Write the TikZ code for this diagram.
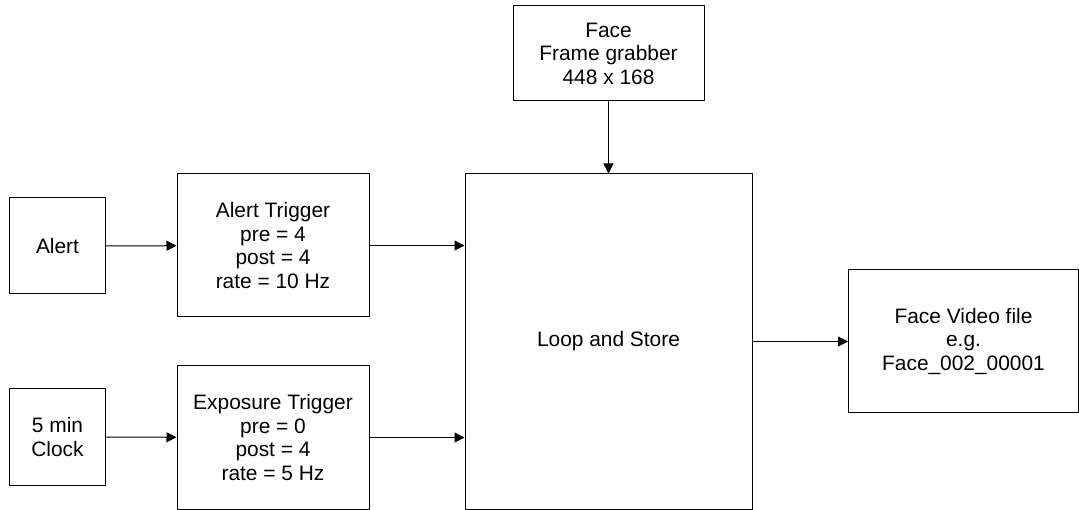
\documentclass[tikz,border=0pt]{standalone}
\usepackage{fontspec}
\setmainfont{Liberation Sans}
\usepackage{tikz}
\usetikzlibrary{arrows.meta}

\begin{document}
\begin{tikzpicture}[x=1pt, y=-1pt,
  font=\fontsize{20.9}{23.5}\selectfont,
  blk/.style={draw, line width=1pt, inner sep=0pt, align=center},
  >={Triangle[length=10pt, width=10pt]}]
 \useasboundingbox (0,0) rectangle (1079,510);
 % sources
 \node (alert) [blk, minimum width=96pt, minimum height=96pt] at (57.5,246) {Alert};
 \node (clock) [blk, minimum width=96pt, minimum height=96pt] at (57.5,437) {5 min\\Clock};
 % triggers
 \node (atrig) [blk, minimum width=192pt, minimum height=143pt] at (273,245.5)
  {Alert Trigger\\pre = 4\\post = 4\\rate = 10 Hz};
 \node (etrig) [blk, minimum width=192pt, minimum height=143pt] at (273,437.5)
  {Exposure Trigger\\pre = 0\\post = 4\\rate = 5 Hz};
 % grabber, loop and output
 \node (face) [blk, minimum width=191pt, minimum height=95pt] at (608.5,53.5)
  {Face\\Frame grabber\\448 x 168};
 \node (loop) [blk, minimum width=287pt, minimum height=335pt] at (608.5,341.5) {Loop and Store};
 \node (video) [blk, minimum width=230pt, minimum height=143pt] at (963.5,341.5)
  {Face Video file\\e.g.\\Face\_002\_00001};
 \path[->, line width=1pt]
  (alert) edge (atrig)
  (clock) edge (etrig)
  (atrig) edge (atrig.east -| loop.west)
  (etrig) edge (etrig.east -| loop.west)
  (face) edge (loop)
  (loop) edge (video)
;
\end{tikzpicture}
\end{document}
